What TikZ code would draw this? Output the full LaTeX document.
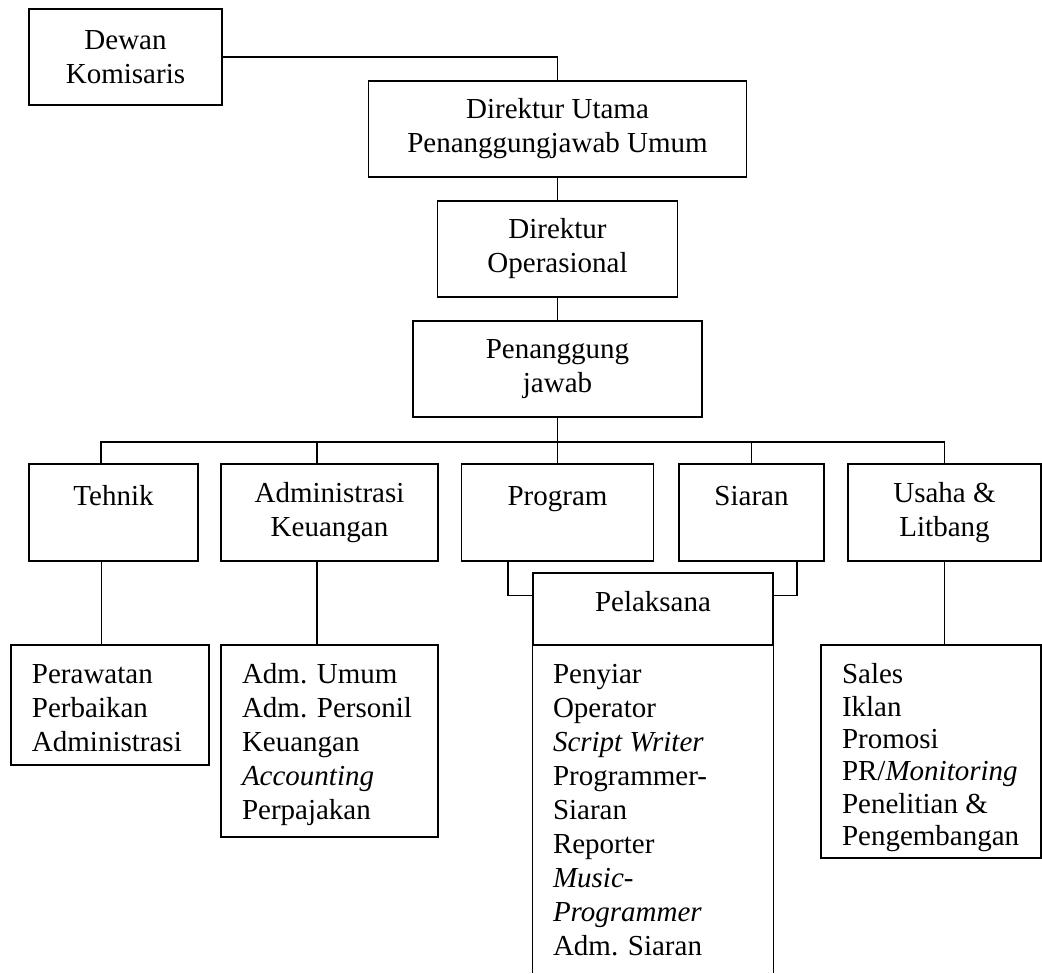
\documentclass[tikz,border=0pt]{standalone}
\usepackage{fontspec}
\setmainfont{Liberation Serif}
\usetikzlibrary{positioning,calc}
\def\px{0.4138pt}
\tikzset{
  unit/.style={draw, inner sep=0pt, align=center, minimum height=96*\px},
  listbox/.style={draw, inner sep=0pt},
  listtext/.style={inner sep=0pt, align=left},
}
\begin{document}
\begin{tikzpicture}[x=\px, y=-\px, line width=0.6pt, font=\fontsize{12}{14.07}\selectfont]
\useasboundingbox (0,0) rectangle (1042,973);
% pimpinan
\node[unit, minimum width=193*\px] (dewan) at (125.5,57) {Dewan\\Komisaris};
\node[unit, minimum width=378*\px] (dirut) at (557.5,129) {Direktur Utama\\Penanggungjawab Umum};
\node[unit, minimum width=240*\px] (dirop) at (557.5,249) {Direktur\\Operasional};
\node[unit, minimum width=289*\px] (pj) at (557.5,369) {Penanggung\\jawab};
% bagian
\node[unit, minimum width=169*\px, minimum height=97*\px] (tehnik) at (113.5,512.5) {Tehnik\\\mbox{}};
\node[unit, minimum width=217*\px, minimum height=97*\px] (admin) at (329.5,512.5) {Administrasi\\Keuangan};
\node[unit, minimum width=192*\px, minimum height=97*\px] (program) at (557.5,512.5) {Program\\\mbox{}};
\node[unit, minimum width=145*\px, minimum height=97*\px] (siaran) at (751.5,512.5) {Siaran\\\mbox{}};
\node[unit, minimum width=193*\px, minimum height=97*\px] (usaha) at (944.5,512.5) {Usaha \&\\Litbang};
\node[unit, minimum width=240*\px, minimum height=72*\px, text depth=6.5pt] (pelaksana) at (653,609) {Pelaksana};
% rincian
\node[listbox, minimum width=198*\px, minimum height=120*\px] (perawatan) at (110,705) {};
\node[listtext, below right=19*\px and 21*\px of perawatan.north west] (perawatantext) {Perawatan\\Perbaikan\\Administrasi};
\node[listbox, minimum width=217*\px, minimum height=192*\px] (adminlist) at (329.5,741) {};
\node[listtext, below right=18.5*\px and 21*\px of adminlist.north west] (admintext) {Adm. Umum\\Adm. Personil\\Keuangan\\\textit{Accounting}\\Perpajakan};
\node[listbox, minimum width=220*\px, minimum height=213*\px] (usahalist) at (931,751.5) {};
\node[listtext, font=\fontsize{12}{13.41}\selectfont, below right=18.5*\px and 21*\px of usahalist.north west] (usahatext) {Sales\\Iklan\\Promosi\\PR/\textit{Monitoring}\\Penelitian \&\\Pengembangan};
\node[listtext, below right=17.5*\px and 20*\px of pelaksana.south west] (pelaksanatext) {Penyiar\\Operator\\\textit{Script Writer}\\Programmer-\\Siaran\\Reporter\\\textit{Music-}\\\textit{Programmer}\\Adm. Siaran};
\coordinate (pbottom) at (653,973);
\draw (pelaksana.south west) -- (pelaksana.south west |- pbottom);
\draw (pelaksana.south east) -- (pelaksana.south east |- pbottom);
% garis
\draw (dewan.east) -| (dirut.north);
\draw (dirut.south) -- (dirop.north);
\draw (dirop.south) -- (pj.north);
\coordinate (bus) at (557.5,442);
\draw (pj.south) -- (bus);
\foreach \n/\dx in {tehnik/-12.5, admin/-12.5, program/0, siaran/0, usaha/0}
  \draw (bus) -| ($(\n.north)+(\dx,0)$);
\coordinate (tehnikdrop) at ($(tehnik.south)+(-12,0)$);
\draw (tehnikdrop) -- (tehnikdrop |- perawatan.north);
\coordinate (admindrop) at ($(admin.south)+(-12.5,0)$);
\draw (admindrop) -- (admindrop |- adminlist.north);
\draw (usaha.south) -- (usaha.south |- usahalist.north);
\draw ($(program.south)+(-49.5,0)$) |- ($(pelaksana.north west)+(0,23)$);
\draw ($(siaran.south)+(45.5,0)$) |- ($(pelaksana.north east)+(0,23)$);
\end{tikzpicture}
\end{document}
